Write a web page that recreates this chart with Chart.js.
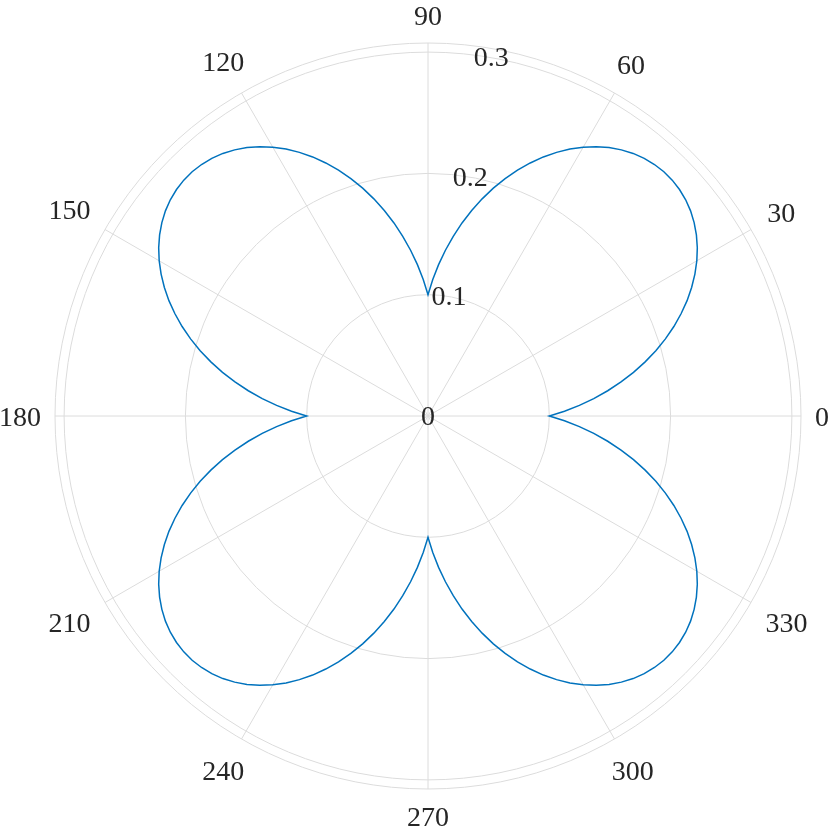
<!DOCTYPE html>
<html>
<head>
<meta charset="utf-8">
<script src="https://cdn.jsdelivr.net/npm/chart.js@4/dist/chart.umd.min.js"></script>
<style>
  html, body { margin: 0; padding: 0; background: #fff; }
  canvas { display: block; }
</style>
</head>
<body>
<canvas id="polar" width="830" height="830"></canvas>
<script>
Chart.defaults.animation = false;
Chart.defaults.font.family = "'Liberation Serif', 'DejaVu Serif', serif";
Chart.defaults.plugins.legend.display = false;
Chart.defaults.plugins.tooltip.enabled = false;

// theta in degrees, sampled every 2 deg
const STEP = 2;
const thetaDeg = [
  0, 2, 4, 6, 8, 10, 12, 14, 16, 18, 20, 22, 24, 26, 28, 30, 32, 34, 36, 38,
  40, 42, 44, 46, 48, 50, 52, 54, 56, 58, 60, 62, 64, 66, 68, 70, 72, 74, 76, 78,
  80, 82, 84, 86, 88, 90, 92, 94, 96, 98, 100, 102, 104, 106, 108, 110, 112, 114, 116, 118,
  120, 122, 124, 126, 128, 130, 132, 134, 136, 138, 140, 142, 144, 146, 148, 150, 152, 154, 156, 158,
  160, 162, 164, 166, 168, 170, 172, 174, 176, 178, 180, 182, 184, 186, 188, 190, 192, 194, 196, 198,
  200, 202, 204, 206, 208, 210, 212, 214, 216, 218, 220, 222, 224, 226, 228, 230, 232, 234, 236, 238,
  240, 242, 244, 246, 248, 250, 252, 254, 256, 258, 260, 262, 264, 266, 268, 270, 272, 274, 276, 278,
  280, 282, 284, 286, 288, 290, 292, 294, 296, 298, 300, 302, 304, 306, 308, 310, 312, 314, 316, 318,
  320, 322, 324, 326, 328, 330, 332, 334, 336, 338, 340, 342, 344, 346, 348, 350, 352, 354, 356, 358,
];
// radius at each theta (four identical lobes)
const rho = [
  0.1000, 0.1126, 0.1251, 0.1374, 0.1496, 0.1616, 0.1732, 0.1845, 0.1954, 0.2058,
  0.2157, 0.2250, 0.2338, 0.2418, 0.2492, 0.2559, 0.2618, 0.2669, 0.2712, 0.2747,
  0.2773, 0.2790, 0.2799, 0.2799, 0.2790, 0.2773, 0.2747, 0.2712, 0.2669, 0.2618,
  0.2559, 0.2492, 0.2418, 0.2338, 0.2250, 0.2157, 0.2058, 0.1954, 0.1845, 0.1732,
  0.1616, 0.1496, 0.1374, 0.1251, 0.1126,
  0.1000, 0.1126, 0.1251, 0.1374, 0.1496, 0.1616, 0.1732, 0.1845, 0.1954, 0.2058,
  0.2157, 0.2250, 0.2338, 0.2418, 0.2492, 0.2559, 0.2618, 0.2669, 0.2712, 0.2747,
  0.2773, 0.2790, 0.2799, 0.2799, 0.2790, 0.2773, 0.2747, 0.2712, 0.2669, 0.2618,
  0.2559, 0.2492, 0.2418, 0.2338, 0.2250, 0.2157, 0.2058, 0.1954, 0.1845, 0.1732,
  0.1616, 0.1496, 0.1374, 0.1251, 0.1126,
  0.1000, 0.1126, 0.1251, 0.1374, 0.1496, 0.1616, 0.1732, 0.1845, 0.1954, 0.2058,
  0.2157, 0.2250, 0.2338, 0.2418, 0.2492, 0.2559, 0.2618, 0.2669, 0.2712, 0.2747,
  0.2773, 0.2790, 0.2799, 0.2799, 0.2790, 0.2773, 0.2747, 0.2712, 0.2669, 0.2618,
  0.2559, 0.2492, 0.2418, 0.2338, 0.2250, 0.2157, 0.2058, 0.1954, 0.1845, 0.1732,
  0.1616, 0.1496, 0.1374, 0.1251, 0.1126,
  0.1000, 0.1126, 0.1251, 0.1374, 0.1496, 0.1616, 0.1732, 0.1845, 0.1954, 0.2058,
  0.2157, 0.2250, 0.2338, 0.2418, 0.2492, 0.2559, 0.2618, 0.2669, 0.2712, 0.2747,
  0.2773, 0.2790, 0.2799, 0.2799, 0.2790, 0.2773, 0.2747, 0.2712, 0.2669, 0.2618,
  0.2559, 0.2492, 0.2418, 0.2338, 0.2250, 0.2157, 0.2058, 0.1954, 0.1845, 0.1732,
  0.1616, 0.1496, 0.1374, 0.1251, 0.1126,
];
const angleTicks = [0, 30, 60, 90, 120, 150, 180, 210, 240, 270, 300, 330];
const rTicks = [0, 0.1, 0.2, 0.3];
const rLimit = 0.3075;
const rLabelAngle = 80;

const GRID = "#dcdcdc";
const TEXT = "#262626";
const FONT = "28px 'Liberation Serif', 'DejaVu Serif', serif";
const DIGIT_H = 19;

// radar runs clockwise, so walk theta backwards to get counter-clockwise angles
const N = thetaDeg.length;
const order = thetaDeg.map((_, k) => (N - k) % N);
const labels = order.map((i) => thetaDeg[i]);
const values = order.map((i) => rho[i]);
const indexForAngle = (deg) => ((360 - deg) % 360) / STEP;

// distance of a label centre so its nearest corner sits on a circle of radius rc
function labelDistance(deg, w, h, rc) {
  const rad = (deg * Math.PI) / 180;
  const c = Math.abs(Math.cos(rad)), s = Math.abs(Math.sin(rad));
  const a = c < 1e-6 ? 0 : w / 2, b = s < 1e-6 ? 0 : h / 2;
  const e = c * w / 2 + s * h / 2;
  return e + Math.sqrt(e * e - (a * a + b * b) + rc * rc);
}

const polarText = {
  id: "polarText",
  afterDraw(chart) {
    const s = chart.scales.r;
    const ctx = chart.ctx;
    ctx.save();
    ctx.font = FONT;
    ctx.fillStyle = TEXT;
    ctx.textAlign = "center";
    ctx.textBaseline = "alphabetic";

    // radius tick labels along the 80 deg spoke
    for (const v of rTicks) {
      const p = v === 0
        ? { x: s.xCenter, y: s.yCenter }
        : s.getPointPosition(indexForAngle(rLabelAngle), s.getDistanceFromCenterForValue(v));
      ctx.fillText(String(v), p.x, p.y + DIGIT_H / 2 - 1);
    }

    // angle labels outside the outer ring
    for (const a of angleTicks) {
      const t = String(a);
      const w = ctx.measureText(t).width;
      const gap = a % 180 === 0 ? 14 : 18;
      const d = labelDistance(a, w, DIGIT_H, s.drawingArea + gap);
      const p = s.getPointPosition(indexForAngle(a), d);
      ctx.fillText(t, p.x, p.y + DIGIT_H / 2);
    }
    ctx.restore();
  },
};

new Chart(document.getElementById("polar").getContext("2d"), {
  type: "radar",
  data: {
    labels: labels,
    datasets: [{
      data: values,
      borderColor: "#0072BD",
      borderWidth: 1.5,
      pointRadius: 0,
      pointHoverRadius: 0,
      fill: false,
      tension: 0,
    }],
  },
  options: {
    responsive: false,
    layout: { padding: { left: 55, right: 29, top: 43, bottom: 41 } },
    scales: {
      r: {
        min: 0,
        max: rLimit,
        startAngle: 90,
        afterBuildTicks: (scale) => {
          scale.ticks = rTicks.concat([rLimit]).map((v) => ({ value: v }));
        },
        ticks: { display: false },
        grid: { circular: true, color: GRID, lineWidth: 1 },
        angleLines: {
          color: (c) => (angleTicks.includes(labels[c.index]) ? GRID : "rgba(0,0,0,0)"),
          lineWidth: 1,
        },
        pointLabels: { display: false },
      },
    },
  },
  plugins: [polarText],
});
</script>
</body>
</html>
